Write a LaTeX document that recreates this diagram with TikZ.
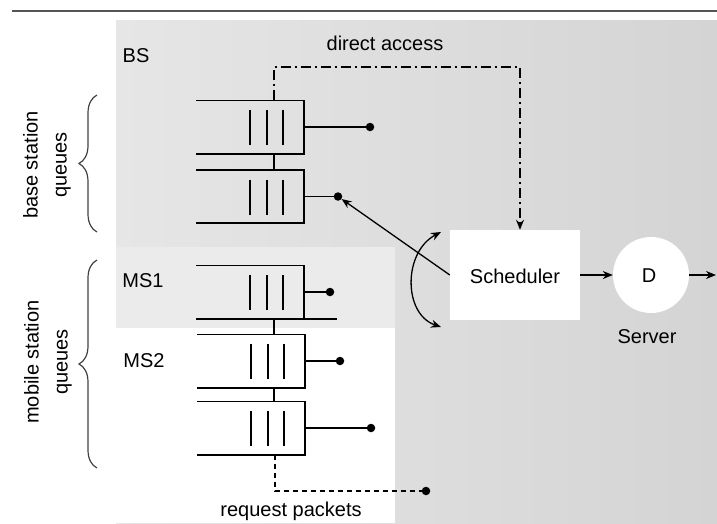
\documentclass[tikz,border=0pt]{standalone}
\usepackage{fontspec}
\setmainfont{Liberation Sans}
\usetikzlibrary{arrows.meta,decorations.pathreplacing,calc}
\definecolor{bggray}{HTML}{D4D4D4}
\definecolor{bglight}{HTML}{E6E6E6}
\definecolor{bandgray}{HTML}{EBEBEB}
\definecolor{rulegray}{HTML}{555555}
\newcommand\drawqueue[1]{%
  \draw[qline] (#1.north west) -- (#1.north east) -- (#1.south east) -- (#1.south west);
  \foreach \dx in {0,17,33}{\draw[qline] ($(#1.center)+(\dx,-17)$) -- ($(#1.center)+(\dx,18)$);}
}
\begin{document}
\begin{tikzpicture}[x=1pt,y=-1pt,
  lbl/.style={font=\fontsize{20}{24}\selectfont, inner sep=0pt},
  qline/.style={line width=1.6pt},
  enddot/.style={circle,fill=black,inner sep=0pt,minimum size=8.5pt},
  qarea/.style={minimum width=108pt,minimum height=53pt,inner sep=0pt},
  myarrow/.style={-{Stealth[length=10pt,width=8pt]}, line width=1.3pt},
  bracestyle/.style={decorate, decoration={brace, amplitude=18pt}, line width=1.2pt, black!75},
]
\useasboundingbox (0,0) rectangle (717,523);
% background
\shade[left color=bglight, right color=bggray] (116,20) rectangle (717,523);
\fill[white] (116,247) rectangle (395,523);
\fill[bandgray] (116,247) rectangle (395,328);
\draw[line width=2pt, rulegray] (12,11) -- (717,11);

% queues
\node[qarea] (bq1) at (250,127) {};
\node[qarea] (bq2) at (250,196.5) {};
\node[qarea] (mq1) at (250,292) {};
\node[qarea] (mq2) at (251,361) {};
\node[qarea] (mq3) at (251,428) {};
\drawqueue{bq1}
\drawqueue{bq2}
\drawqueue{mq1}
\drawqueue{mq2}
\drawqueue{mq3}
\draw[qline] (mq1.south east) -- ++(33,0);

% ticks between queues
\draw[line width=1.1pt] ($(bq1.south)+(24,0)$) -- ($(bq2.north)+(24,0)$);
\draw[line width=1.1pt] ($(mq1.south)+(24,0)$) -- ($(mq2.north)+(23,0)$);
\draw[line width=1.1pt] ($(mq2.south)+(23,0)$) -- ($(mq3.north)+(23,0)$);

% output dots
\node[enddot] (d1) at (370,127) {};
\node[enddot] (d2) at (338,196.5) {};
\node[enddot] (d3) at (330,292) {};
\node[enddot] (d4) at (340,361) {};
\node[enddot] (d5) at (371,428) {};
\draw[qline] (bq1.east) -- (d1);
\draw[qline] (bq2.east) -- (d2);
\draw[qline] (mq1.east) -- (d3);
\draw[qline] (mq2.east) -- (d4);
\draw[qline] (mq3.east) -- (d5);

% scheduler and server
\node[fill=white, minimum width=130pt, minimum height=90pt, inner sep=0pt] (sched) at (515,275) {};
\node[lbl, anchor=base] at (515,283) {Scheduler};
\node[circle, fill=white, minimum size=76pt, inner sep=0pt] (srv) at (651,275) {};
\node[lbl, anchor=base] at (649,282) {D};
\node[lbl, anchor=base] at (647,343) {Server};
\coordinate (out) at (716,275);
\draw[myarrow] (sched.east) -- (srv.west);
\draw[myarrow] (srv.east) -- (out);

% direct access
\coordinate (dd1) at (274,67);
\coordinate (dd2) at (520,67);
\draw[line width=1.5pt, dash pattern=on 10pt off 4pt on 2pt off 4pt, -{Stealth[length=10pt,width=8pt]}]
  ($(bq1.north)+(24,0)$) -- (dd1) -- (dd2) -- (sched.north -| dd2);

% scheduler to base station queue
\draw[myarrow] (sched.west) -- (d2);

% curved double arrow
\coordinate (ca) at (441,232);
\coordinate (cb) at (441,327);
\draw[{Stealth[length=10pt,width=8pt]}-{Stealth[length=10pt,width=8pt]}, line width=1.3pt]
  (ca) .. controls (403,252) and (403,314) .. (cb);

% request packets
\coordinate (r1) at (275,491);
\node[enddot] (rd) at (426,491) {};
\draw[line width=1.2pt, dash pattern=on 5pt off 4pt] ($(mq3.south)+(24,0)$) -- (r1) -- (rd);

% braces
\draw[bracestyle] (97,232) -- (97,95);
\draw[bracestyle] (97,468) -- (97,260);

% labels
\node[lbl, anchor=base] at (136,62) {BS};
\node[lbl, anchor=base] at (385,50) {direct access};
\node[lbl, anchor=base] at (143,287) {MS1};
\node[lbl, anchor=base] at (144,367) {MS2};
\node[lbl, anchor=base] at (291,516) {request packets};
\node[lbl, rotate=90, align=center, font=\fontsize{20}{29}\selectfont] at (47,165) {base station\\queues};
\node[lbl, rotate=90, align=center, font=\fontsize{20}{29}\selectfont] at (48,362) {mobile station\\queues};
\end{tikzpicture}
\end{document}
